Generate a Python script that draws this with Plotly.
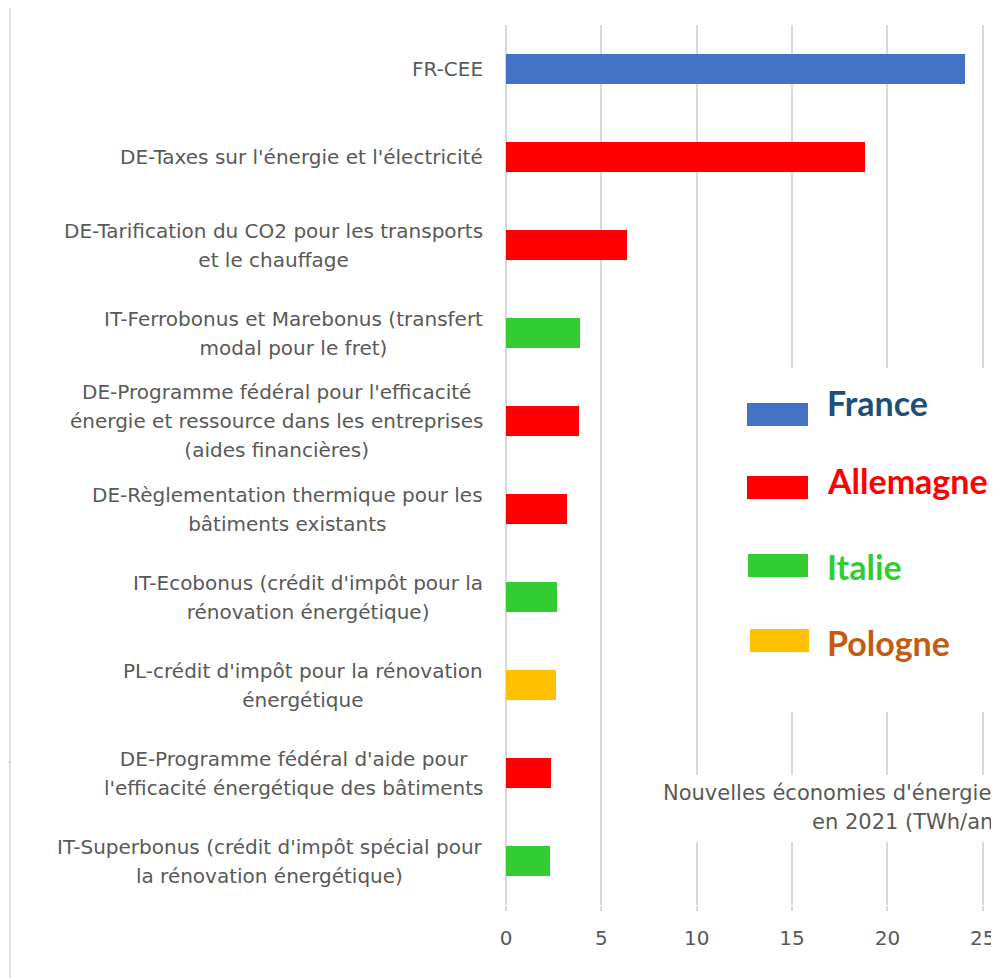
import plotly.graph_objects as go

# ---------------------------------------------------------------------------
# Data
# ---------------------------------------------------------------------------
programmes = [
    "FR-CEE",
    "DE-Taxes sur l'énergie et l'électricité",
    "DE-Tarification du CO2 pour les transports<br>et le chauffage",
    "IT-Ferrobonus et Marebonus (transfert<br>modal pour le fret)",
    "DE-Programme fédéral pour l'efficacité<br>énergie et ressource dans les entreprises<br>(aides financières)",
    "DE-Règlementation thermique pour les<br>bâtiments existants",
    "IT-Ecobonus (crédit d'impôt pour la<br>rénovation énergétique)",
    "PL-crédit d'impôt pour la rénovation<br>énergétique",
    "DE-Programme fédéral d'aide pour<br>l'efficacité énergétique des bâtiments",
    "IT-Superbonus (crédit d'impôt spécial pour<br>la rénovation énergétique)",
]
pays = ["France", "Allemagne", "Allemagne", "Italie", "Allemagne",
        "Allemagne", "Italie", "Pologne", "Allemagne", "Italie"]
economies = [24.08, 18.83, 6.35, 3.86, 3.81, 3.2, 2.67, 2.62, 2.36, 2.31]

legend_countries = ["France", "Allemagne", "Italie", "Pologne"]
bar_colors = {"France": "#4472C4", "Allemagne": "#FF0000",
              "Italie": "#33CC33", "Pologne": "#FFC000"}
text_colors = {"France": "#1F4E79", "Allemagne": "#FF0000",
               "Italie": "#33CC33", "Pologne": "#C55A11"}

axis_title_lines = ["Nouvelles économies d'énergies", "en 2021 (TWh/an)"]
x_ticks = [0, 5, 10, 15, 20, 25]

# ---------------------------------------------------------------------------
# Layout helpers
# The page body has an 8px margin, so the figure is shrunk by 8px and
# positions below are given in window pixels, then turned into paper units.
# ---------------------------------------------------------------------------
OFF = 8
W, H = 999 - OFF, 978 - OFF
PLOT_L, PLOT_T, PLOT_B = 506, 25, 905          # window pixels
L, R, T, B = PLOT_L - OFF, 0, PLOT_T - OFF, H - (PLOT_B - OFF)
PW, PH = W - L - R, H - T - B

FONT = "DejaVu Sans"
GREY = "#595959"
GRID = "#D9D9D9"
LINE_GAP = 29   # px between wrapped lines in the reference
FS = 20
PX_PER_UNIT = 19.07


def px(x):
    return (x - PLOT_L) / PW


def py(y):
    return (PLOT_B - y) / PH


fig = go.Figure()

fig.add_trace(go.Bar(
    x=economies,
    y=programmes,
    orientation='h',
    width=0.33,
    marker=dict(color=[bar_colors[p] for p in pays], line=dict(width=0)),
    showlegend=False,
    hoverinfo='skip'
))

annotations = []
shapes = []

# Category labels: wrapped lines centered on each other, block right-aligned.
# Each line is its own annotation carrying the whole block (other lines
# transparent) so centering stays right while the line gap can be widened.
hidden = '<span style="color:rgba(0,0,0,0)">{}</span>'
for cat in programmes:
    lines = cat.split("<br>")
    n = len(lines)
    plotly_gap = 1.3 * FS
    for i in range(n):
        text = "<br>".join(l if j == i else hidden.format(l) for j, l in enumerate(lines))
        off = i - (n - 1) / 2
        annotations.append(dict(
            text=text, xref='paper', x=px(485), xanchor='right',
            yref='y', y=cat, yanchor='middle', align='center',
            yshift=-off * (LINE_GAP - plotly_gap),
            showarrow=False, font=dict(family=FONT, size=FS, color=GREY)
        ))

# White boxes hiding gridlines behind legend and axis title
shapes.append(dict(type='rect', xref='paper', yref='paper',
                   x0=px(720), x1=px(1005), y0=py(712), y1=py(368),
                   fillcolor='white', line=dict(width=0), layer='above'))
shapes.append(dict(type='rect', xref='paper', yref='paper',
                   x0=px(650), x1=px(1005), y0=py(842), y1=py(775),
                   fillcolor='white', line=dict(width=0), layer='above'))

# Custom legend
legend_rows = {"France": (747, 808, 403, 426, 402),
               "Allemagne": (747, 808, 476, 499, 480),
               "Italie": (748, 808, 554, 577, 566),
               "Pologne": (750, 809, 629, 652, 642)}
for c in legend_countries:
    x0, x1, y0, y1, ty = legend_rows[c]
    shapes.append(dict(type='rect', xref='paper', yref='paper',
                       x0=px(x0), x1=px(x1), y0=py(y1), y1=py(y0),
                       fillcolor=bar_colors[c], line=dict(width=0), layer='above'))
    annotations.append(dict(
        text=f"<b>{c}</b>", xref='paper', yref='paper',
        x=px(825), xanchor='left', y=py(ty), yanchor='middle',
        showarrow=False, font=dict(family="Lato", size=34, color=text_colors[c])
    ))

# Axis title (right aligned, cut by the right edge like the reference)
for i, line in enumerate(axis_title_lines):
    annotations.append(dict(
        text=line, xref='paper', yref='paper', x=px(1004), xanchor='right',
        y=py(793 + i * LINE_GAP), yanchor='middle', showarrow=False,
        font=dict(family=FONT, size=21, color=GREY)
    ))

# Frame remnants at the far left of the reference picture
for x0, y0, x1, y1 in [(10, 5, 10, 990), (0, 5, 10, 5), (0, 762, 10, 762)]:
    shapes.append(dict(type='line', xref='paper', yref='paper',
                       x0=px(x0), x1=px(x1), y0=py(y0), y1=py(y1),
                       line=dict(color=GRID, width=1.5)))

fig.update_layout(
    width=W, height=H,
    margin=dict(l=L, r=R, t=T, b=B),
    plot_bgcolor='white', paper_bgcolor='white',
    font=dict(family=FONT, size=FS, color=GREY),
    xaxis=dict(
        range=[0, PW / PX_PER_UNIT], tickvals=x_ticks,
        showgrid=True, gridcolor=GRID, gridwidth=1.5,
        zeroline=True, zerolinecolor=GRID, zerolinewidth=1.5,
        ticks='outside', ticklen=5, tickcolor=GRID, tickwidth=1.5,
        ticklabelstandoff=10,
        tickfont=dict(family=FONT, size=FS, color=GREY),
        showline=False
    ),
    yaxis=dict(
        categoryorder='array', categoryarray=programmes,
        autorange='reversed', showticklabels=False,
        showgrid=False, zeroline=False, showline=False, ticks=''
    ),
    annotations=annotations,
    shapes=shapes,
    bargap=0
)

fig.write_html("out.html")
